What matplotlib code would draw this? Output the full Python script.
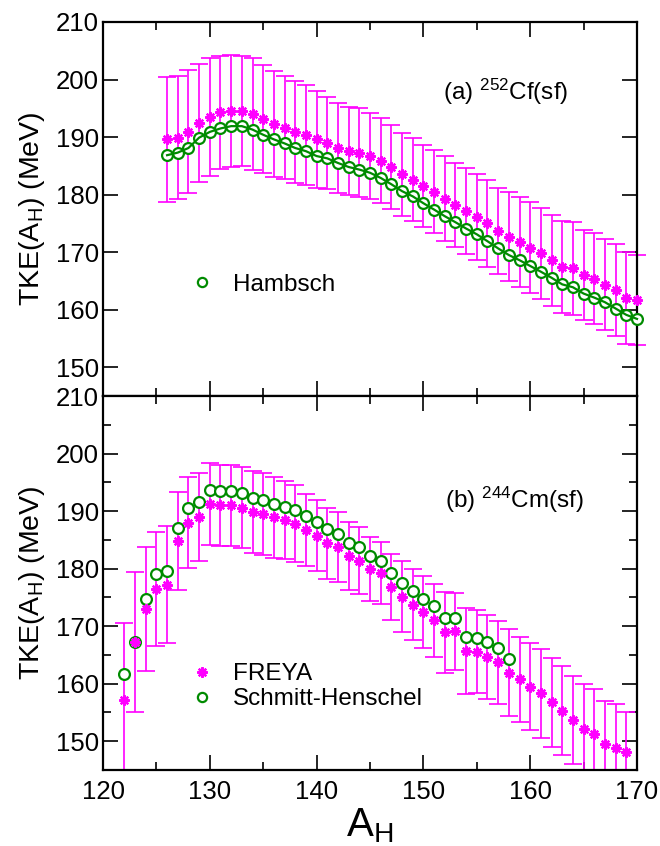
import matplotlib
matplotlib.use("Agg")
import matplotlib.pyplot as plt
from matplotlib.lines import Line2D
from matplotlib.ticker import MultipleLocator

plt.rcParams['font.family'] = ['Liberation Sans', 'DejaVu Sans']
plt.rcParams['mathtext.default'] = 'regular'

MAG = '#ff00ff'
GRN = '#008b00'

# ---------------- data: (a) 252Cf(sf) ----------------
a_cf = list(range(126, 171))
freya_cf = [189.6, 189.9, 190.9, 192.5, 193.5, 194.3, 194.5, 194.5, 194.0, 193.2,
            192.3, 191.6, 190.9, 190.3, 189.6, 188.9, 188.1, 187.6, 187.3, 186.7,
            185.9, 184.8, 183.5, 182.6, 181.5, 180.5, 179.3, 178.2, 177.1, 176.1,
            175.0, 173.7, 172.7, 171.8, 170.8, 169.8, 168.6, 167.5, 167.2, 166.0,
            165.4, 164.3, 163.4, 162.0, 161.7]
freya_cf_err = [10.9, 10.7, 10.7, 10.25, 10.2, 9.85, 9.75, 9.6, 9.7, 9.4,
                9.2, 8.95, 8.8, 8.7, 8.45, 8.0, 7.9, 7.7, 7.7, 7.4,
                7.35, 7.35, 7.2, 7.2, 7.2, 7.25, 7.4, 7.3, 7.5, 7.4,
                7.5, 7.5, 7.7, 7.8, 7.9, 7.95, 7.9, 8.0, 8.1, 7.8,
                7.9, 7.9, 8.0, 8.0, 7.8]
hambsch_cf = [186.85, 187.3, 188.1, 189.9, 190.9, 191.5, 191.9, 191.9, 191.3, 190.4,
              189.6, 188.9, 188.1, 187.55, 186.7, 186.3, 185.5, 184.8, 184.35, 183.8,
              182.9, 181.8, 180.6, 179.7, 178.5, 177.4, 176.25, 175.2, 174.1, 173.1,
              171.9, 170.65, 169.5, 168.6, 167.6, 166.6, 165.55, 164.4, 163.9, 162.8,
              162.1, 161.3, 160.2, 159.1, 158.4]

# ---------------- data: (b) 244Cm(sf) ----------------
a_cm = list(range(122, 170))
freya_cm = [157.2, 167.2, 173.0, 176.4, 177.2, 184.8, 188.0, 189.0, 191.2, 191.0,
            191.0, 190.6, 189.9, 189.5, 188.9, 188.4, 187.8, 186.7, 185.7, 184.4,
            183.8, 182.2, 181.35, 179.9, 179.2, 176.8, 175.1, 173.7, 172.4, 171.05,
            168.9, 169.1, 165.7, 165.55, 164.7, 163.7, 161.9, 160.8, 159.5, 158.3,
            156.75, 155.3, 153.7, 152.2, 151.25, 149.5, 148.8, 148.1]
freya_cm_err = [13.3, 12.2, 10.8, 9.9, 10.2, 8.55, 7.85, 7.7, 7.15, 7.0,
                7.05, 7.0, 7.1, 7.1, 7.0, 6.75, 6.7, 6.3, 6.2, 6.2,
                6.05, 5.95, 5.8, 5.6, 5.4, 5.8, 6.15, 6.15, 6.25, 6.35,
                7.0, 6.7, 7.5, 7.25, 7.3, 7.2, 7.6, 7.4, 7.55, 7.7,
                7.75, 7.7, 7.6, 7.8, 7.85, 7.55, 7.7, 7.0]
a_sh = list(range(122, 159))
schmitt_cm = [161.7, 167.3, 174.8, 179.0, 179.5, 187.1, 190.5, 191.5, 193.6, 193.5,
              193.5, 193.1, 192.35, 191.95, 191.3, 190.7, 190.25, 189.1, 188.1, 186.8,
              186.1, 184.4, 183.7, 182.2, 181.4, 179.3, 177.5, 176.15, 174.8, 173.5,
              171.4, 171.5, 168.2, 168.0, 167.2, 166.25, 164.3]

x_ticks = [120, 130, 140, 150, 160, 170]
y_ticks = [150, 160, 170, 180, 190, 200, 210]

W, H = 660, 846
fig = plt.figure(figsize=(W / 100, H / 100), dpi=100)
left, right = 103 / W, 637 / W
ax1 = fig.add_axes([left, 1 - 396 / H, right - left, 374 / H])
ax2 = fig.add_axes([left, 1 - 770 / H, right - left, 374 / H])

star = (8, 2, 0)
ms_star = 7.5
ms_circ = 7.8
tick_fs = 18.5

for ax in (ax1, ax2):
    ax.set_xlim(120, 170)
    ax.set_ylim(145, 210)
    ax.set_xticks(x_ticks)
    ax.set_yticks(y_ticks)
    ax.xaxis.set_minor_locator(MultipleLocator(5))
    for s in ax.spines.values():
        s.set_linewidth(1.6)
    ax.tick_params(which='both', direction='in', top=True, right=True, width=1.2,
                   labelsize=tick_fs)
    ax.tick_params(which='major', length=11)
    ax.tick_params(which='minor', length=5.5)
    ax.tick_params(axis='y', pad=3)
    ax.tick_params(axis='x', pad=7)
    ax.set_ylabel('TKE(A$_H$) (MeV)', fontsize=20.5, labelpad=6)

ax2.yaxis.set_minor_locator(MultipleLocator(5))
ax1.tick_params(axis='x', labelbottom=False)

# ---- panel (a)
ax1.errorbar(a_cf, freya_cf, yerr=freya_cf_err, fmt='none', ecolor=MAG,
             elinewidth=1.2, capsize=6.5, capthick=1.2, zorder=2, clip_on=False)
ax1.plot(a_cf, hambsch_cf, linestyle='none', marker='o', ms=ms_circ, mfc='white',
         mec=GRN, mew=1.6, zorder=3, clip_on=False)
ax1.plot(a_cf, hambsch_cf, color=GRN, lw=1.6, zorder=4, clip_on=False)
ax1.plot(a_cf, freya_cf, linestyle='none', marker=star, ms=ms_star, color=MAG,
         mew=1.6, zorder=5, clip_on=False)
ax1.text(151.8, 196.5, '(a) $^{252}$Cf(sf)', fontsize=17.5, ha='left', va='baseline')
h_ham = Line2D([], [], linestyle='none', marker='o', ms=ms_circ * 0.85, mfc='none',
               mec=GRN, mew=1.6)
ax1.legend([h_ham], ['Hambsch'], loc='center left', bbox_to_anchor=(0.163, 0.297),
           frameon=False, fontsize=17.5, handlelength=1.0, handletextpad=0.75,
           borderpad=0, borderaxespad=0)

# ---- panel (b)
ax2.errorbar(a_cm, freya_cm, yerr=freya_cm_err, fmt='none', ecolor=MAG,
             elinewidth=1.2, capsize=6.5, capthick=1.2, zorder=2)
ax2.plot(a_sh, schmitt_cm, linestyle='none', marker='o', ms=ms_circ, mfc='white',
         mec=GRN, mew=1.6, zorder=3)
ax2.plot(a_cm, freya_cm, linestyle='none', marker=star, ms=ms_star, color=MAG,
         mew=1.6, zorder=4)
ax2.text(152.0, 190.6, '(b) $^{244}$Cm(sf)', fontsize=17.5, ha='left', va='baseline')
h_fr = Line2D([], [], linestyle='none', marker=star, ms=ms_star, color=MAG, mew=1.6)
h_sh = Line2D([], [], linestyle='none', marker='o', ms=ms_circ * 0.85, mfc='none',
              mec=GRN, mew=1.6)
ax2.legend([h_fr, h_sh], ['FREYA', 'Schmitt-Henschel'], loc='center left',
           bbox_to_anchor=(0.163, 0.223), frameon=False, fontsize=17.5,
           handlelength=1.0, handletextpad=0.75, borderpad=0, borderaxespad=0,
           labelspacing=0.12)
ax2.set_xlabel('A$_H$', fontsize=29, labelpad=2)

fig.savefig('out.png', dpi=100)
